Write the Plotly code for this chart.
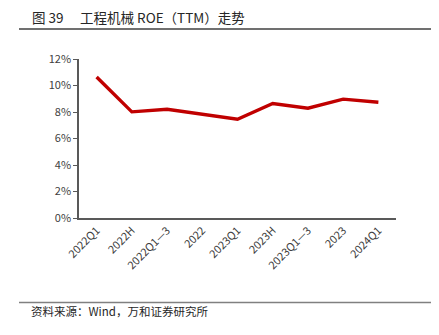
import plotly.graph_objects as go

categories = ["2022Q1", "2022H", "2022Q1\u20143", "2022", "2023Q1", "2023H", "2023Q1\u20143", "2023", "2024Q1"]
roe = [10.64, 8.01, 8.21, 7.86, 7.45, 8.64, 8.29, 8.97, 8.74]
y_ticks = [0, 2, 4, 6, 8, 10, 12]
y_tick_labels = ["0%", "2%", "4%", "6%", "8%", "10%", "12%"]

title_text = "图 39\u3000 工程机械 ROE（TTM）走势"
source_text = "资料来源：Wind，万和证券研究所"

FONT = "Noto Sans CJK SC, Noto Sans, sans-serif"

fig = go.Figure()
fig.add_trace(go.Scatter(
    x=categories, y=roe, mode="lines",
    line=dict(color="#C00000", width=3.4),
    hoverinfo="skip", showlegend=False,
))

fig.update_layout(
    width=439, height=335,
    margin=dict(l=79, r=43, t=59, b=117),
    paper_bgcolor="white", plot_bgcolor="white",
    font=dict(family=FONT, size=11, color="#404040"),
    xaxis=dict(
        type="category",
        showgrid=False, zeroline=False,
        showline=True, linecolor="#595959", linewidth=1.5,
        ticks="", tickangle=-45,
        tickfont=dict(size=11, color="#404040"),
        range=[-0.5, len(categories) - 0.5],
    ),
    yaxis=dict(
        range=[0, 12],
        tickvals=y_ticks, ticktext=y_tick_labels,
        showgrid=False, zeroline=False,
        showline=True, linecolor="#595959", linewidth=1.5,
        ticks="outside", ticklen=4, tickcolor="#595959", tickwidth=1,
        tickfont=dict(size=11, color="#404040"),
    ),
    shapes=[
        dict(type="line", xref="paper", yref="paper",
             x0=(19 - 79) / 317, x1=(431 - 79) / 317,
             y0=(335 - 117 - 29) / 159, y1=(335 - 117 - 29) / 159,
             line=dict(color="#404040", width=1.5)),
        dict(type="line", xref="paper", yref="paper",
             x0=(19 - 79) / 317, x1=(431 - 79) / 317,
             y0=(218 - 302.5) / 159, y1=(218 - 302.5) / 159,
             line=dict(color="#808080", width=1.5)),
    ],
    annotations=[
        dict(text=title_text, xref="paper", yref="paper",
             x=(30 - 79) / 317, y=(218 - 17) / 159,
             xanchor="left", yanchor="middle", showarrow=False,
             font=dict(family=FONT, size=13.5, color="#262626")),
        dict(text=source_text, xref="paper", yref="paper",
             x=(29 - 79) / 317, y=(218 - 311) / 159,
             xanchor="left", yanchor="middle", showarrow=False,
             font=dict(family=FONT, size=11.5, color="#262626")),
    ],
)

fig.write_html("out.html")
